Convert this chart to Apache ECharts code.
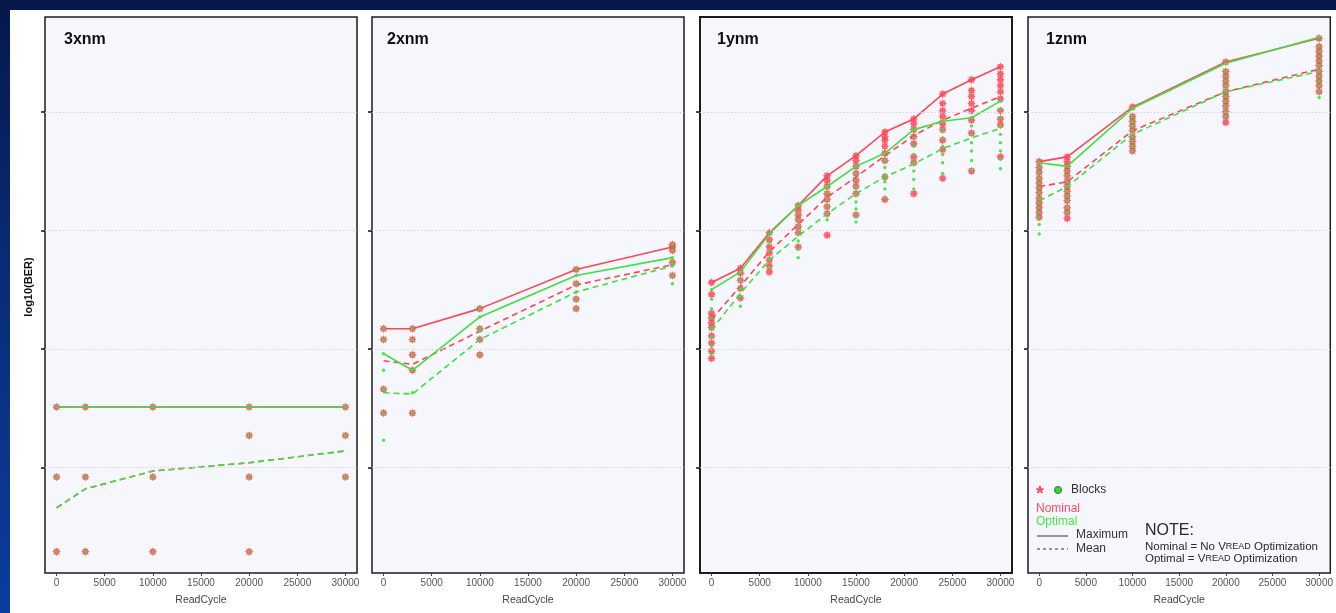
<!DOCTYPE html>
<html>
<head>
<meta charset="utf-8">
<script src="https://cdn.jsdelivr.net/npm/echarts@6/dist/echarts.min.js"></script>
<style>
  html, body { margin:0; padding:0; width:1336px; height:613px; overflow:hidden;
    background: linear-gradient(180deg, #06184a 0%, #0a2c78 45%, #0c3c9e 100%); }
  #sheet { position:absolute; left:10px; top:10px; width:1326px; height:603px; background:#ffffff; }
  #chart { position:absolute; left:0; top:0; width:1336px; height:613px; }
</style>
</head>
<body>
<div id="sheet"></div>
<div id="chart"></div>
<script>
// ---------------- DATA ----------------
const panelTitles = ['3xnm', '2xnm', '1ynm', '1znm'];
const xTickValues = [0, 5000, 10000, 15000, 20000, 25000, 30000];
const yGridValues = [-5, -4, -3, -2];          // log10(BER) grid levels (unlabelled in original)
const readCycles5 = [0, 3000, 10000, 20000, 30000];
const readCycles11 = [0, 3000, 6000, 9000, 12000, 15000, 18000, 21000, 24000, 27000, 30000];

// 3xnm
const nm3_nomMax  = [-4.49, -4.49, -4.49, -4.49, -4.49];
const nm3_optMax  = [-4.49, -4.49, -4.49, -4.49, -4.49];
const nm3_nomMean = [-5.34, -5.18, -5.03, -4.96, -4.86];
const nm3_optMean = [-5.34, -5.18, -5.03, -4.96, -4.86];
const nm3_nomBlocks = [[-4.49,-5.08,-5.71],[-4.49,-5.08,-5.71],[-4.49,-5.08,-5.71],[-4.49,-4.73,-5.08,-5.71],[-4.49,-4.73,-5.08]];
const nm3_optBlocks = [[-4.49,-5.08,-5.71],[-4.49,-5.08,-5.71],[-4.49,-5.08,-5.71],[-4.49,-4.73,-5.08,-5.71],[-4.49,-4.73,-5.08]];

// 2xnm
const nm2_nomMax  = [-3.83, -3.83, -3.66, -3.33, -3.14];
const nm2_optMax  = [-4.04, -4.18, -3.73, -3.38, -3.23];
const nm2_nomMean = [-4.10, -4.13, -3.85, -3.46, -3.29];
const nm2_optMean = [-4.37, -4.38, -3.92, -3.52, -3.30];
const nm2_nomBlocks = [[-3.83,-3.92,-4.34,-4.54],[-3.83,-3.92,-4.05,-4.18,-4.54],[-3.66,-3.83,-3.92,-4.05],[-3.33,-3.45,-3.58,-3.66],[-3.12,-3.14,-3.17,-3.27,-3.38]];
const nm2_optBlocks = [[-3.83,-3.92,-4.04,-4.18,-4.34,-4.54,-4.77],[-3.83,-3.92,-4.05,-4.18,-4.37,-4.54],[-3.66,-3.73,-3.83,-3.85,-3.92,-4.05],[-3.33,-3.38,-3.45,-3.52,-3.58,-3.66],[-3.12,-3.17,-3.23,-3.27,-3.30,-3.38,-3.45]];

// 1ynm
const nm1y_nomMax  = [-3.44, -3.32, -3.02, -2.79, -2.54, -2.37, -2.17, -2.06, -1.85, -1.73, -1.62];
const nm1y_optMax  = [-3.50, -3.35, -3.03, -2.79, -2.63, -2.46, -2.35, -2.15, -2.08, -2.05, -1.91];
const nm1y_nomMean = [-3.75, -3.47, -3.18, -2.95, -2.72, -2.55, -2.37, -2.20, -2.07, -1.97, -1.87];
const nm1y_optMean = [-3.84, -3.53, -3.25, -3.05, -2.86, -2.69, -2.55, -2.44, -2.31, -2.22, -2.14];
const nm1y_nomBlocks = [
  [-3.44,-3.54,-3.70,-3.74,-3.78,-3.82,-3.89,-3.95,-4.02,-4.08],
  [-3.32,-3.36,-3.42,-3.49,-3.57],
  [-3.02,-3.08,-3.14,-3.19,-3.25,-3.30,-3.35],
  [-2.79,-2.83,-2.87,-2.91,-2.97,-3.02,-3.14],
  [-2.54,-2.58,-2.63,-2.69,-2.74,-2.80,-2.86,-3.04],
  [-2.37,-2.41,-2.46,-2.52,-2.58,-2.63,-2.69,-2.87],
  [-2.17,-2.21,-2.24,-2.29,-2.35,-2.41,-2.55,-2.74],
  [-2.06,-2.10,-2.15,-2.21,-2.27,-2.38,-2.43,-2.69],
  [-1.85,-1.93,-1.99,-2.04,-2.10,-2.15,-2.24,-2.32,-2.56],
  [-1.73,-1.82,-1.87,-1.93,-1.99,-2.07,-2.18,-2.50],
  [-1.62,-1.68,-1.73,-1.78,-1.83,-1.89,-1.99,-2.06,-2.11,-2.38]
];
const nm1y_optBlocks = [
  [-3.50,-3.58,-3.66,-3.74,-3.82,-3.90,-3.98,-4.04],
  [-3.35,-3.42,-3.49,-3.56,-3.64],
  [-3.03,-3.10,-3.17,-3.24,-3.31],
  [-2.79,-2.85,-2.91,-2.97,-3.03,-3.09,-3.16,-3.23],
  [-2.63,-2.68,-2.74,-2.80,-2.86,-2.91],
  [-2.46,-2.52,-2.58,-2.64,-2.70,-2.76,-2.82,-2.88,-2.93],
  [-2.35,-2.41,-2.47,-2.53,-2.59,-2.65,-2.72],
  [-2.15,-2.22,-2.29,-2.36,-2.43,-2.50,-2.57,-2.65],
  [-2.08,-2.15,-2.22,-2.29,-2.36,-2.43,-2.52],
  [-2.05,-2.12,-2.19,-2.26,-2.33,-2.41,-2.49],
  [-1.91,-1.98,-2.05,-2.12,-2.19,-2.26,-2.33,-2.40,-2.48]
];

// 1znm
const nm1z_nomMax  = [-2.42, -2.38, -1.96, -1.58, -1.38];
const nm1z_optMax  = [-2.43, -2.46, -1.97, -1.59, -1.37];
const nm1z_nomMean = [-2.63, -2.59, -2.16, -1.83, -1.64];
const nm1z_optMean = [-2.75, -2.63, -2.19, -1.83, -1.66];
const nm1z_nomBlocks = [
  [-2.42,-2.47,-2.51,-2.56,-2.60,-2.64,-2.68,-2.73,-2.77,-2.81,-2.85,-2.89],
  [-2.38,-2.42,-2.46,-2.50,-2.54,-2.59,-2.63,-2.67,-2.71,-2.75,-2.81,-2.85,-2.90],
  [-1.96,-2.04,-2.08,-2.12,-2.16,-2.21,-2.25,-2.29,-2.33],
  [-1.58,-1.66,-1.70,-1.74,-1.78,-1.83,-1.87,-1.91,-1.95,-2.00,-2.04,-2.09],
  [-1.38,-1.45,-1.49,-1.53,-1.57,-1.61,-1.66,-1.70,-1.74,-1.78,-1.83]
];
const nm1z_optBlocks = [
  [-2.43,-2.47,-2.51,-2.56,-2.60,-2.64,-2.68,-2.73,-2.77,-2.81,-2.85,-2.89,-2.95,-3.03],
  [-2.46,-2.50,-2.54,-2.59,-2.63,-2.67,-2.71,-2.75,-2.81,-2.85],
  [-1.97,-2.04,-2.08,-2.12,-2.16,-2.21,-2.25,-2.29,-2.33],
  [-1.59,-1.66,-1.70,-1.74,-1.78,-1.83,-1.87,-1.91,-1.95,-2.00,-2.04],
  [-1.37,-1.45,-1.49,-1.53,-1.57,-1.61,-1.66,-1.70,-1.74,-1.78,-1.83,-1.88]
];

// ---------------- STYLE / LAYOUT ----------------
const FONT = "'Liberation Sans', Arial, sans-serif";
const RED = '#ff4656';
const GREEN = '#3fe03f';
const X_MIN = -1200, X_MAX = 31200;
const Y_MIN = -5.89, Y_MAX = -1.20;
const GRID_TOP = 17, GRID_H = 556, GRID_W = 312;
const gridLefts = [45, 372, 700, 1028];

const panels = [
  { xs: readCycles5,  nomMax: nm3_nomMax,  optMax: nm3_optMax,  nomMean: nm3_nomMean,  optMean: nm3_optMean,  nomB: nm3_nomBlocks,  optB: nm3_optBlocks },
  { xs: readCycles5,  nomMax: nm2_nomMax,  optMax: nm2_optMax,  nomMean: nm2_nomMean,  optMean: nm2_optMean,  nomB: nm2_nomBlocks,  optB: nm2_optBlocks },
  { xs: readCycles11, nomMax: nm1y_nomMax, optMax: nm1y_optMax, nomMean: nm1y_nomMean, optMean: nm1y_optMean, nomB: nm1y_nomBlocks, optB: nm1y_optBlocks },
  { xs: readCycles5,  nomMax: nm1z_nomMax, optMax: nm1z_optMax, nomMean: nm1z_nomMean, optMean: nm1z_optMean, nomB: nm1z_nomBlocks, optB: nm1z_optBlocks }
];

// asterisk-like symbol
function asteriskPath() {
  let d = '';
  for (let k = 0; k < 16; k++) {
    const a = k * Math.PI / 8 - Math.PI / 2;
    const r = (k % 2 === 0) ? 10 : 6.5;
    const px = (10 + r * Math.cos(a)).toFixed(2), py = (10 + r * Math.sin(a)).toFixed(2);
    d += (k === 0 ? 'M' : 'L') + px + ' ' + py + ' ';
  }
  return 'path://' + d + 'Z';
}
const ASTER = asteriskPath();

const grids = [], xAxes = [], yAxes = [], series = [];
panels.forEach((p, i) => {
  grids.push({ left: gridLefts[i], top: GRID_TOP, width: GRID_W, height: GRID_H, show: true,
    backgroundColor: '#f6f7fc', borderColor: '#1c1c1c', borderWidth: (i === 2 ? 2 : 1.5), containLabel: false });
  xAxes.push({ type: 'value', gridIndex: i, min: X_MIN, max: X_MAX,
    axisLine: { show: false, onZero: false },
    axisTick: { show: true, length: 3, customValues: xTickValues, lineStyle: { color: '#444' } },
    axisLabel: { show: true, customValues: xTickValues, color: '#555', fontSize: 10, fontFamily: FONT, margin: 5,
      formatter: v => String(v) },
    splitLine: { show: false },
    name: 'ReadCycle', nameLocation: 'middle', nameGap: 22,
    nameTextStyle: { color: '#444', fontSize: 10.5, fontFamily: FONT } });
  yAxes.push({ type: 'value', gridIndex: i, min: Y_MIN, max: Y_MAX,
    axisLine: { show: false, onZero: false },
    axisTick: { show: true, inside: false, length: 4, customValues: yGridValues, lineStyle: { color: '#111', width: 1.5 } },
    axisLabel: { show: false },
    splitLine: { show: false } });

  const pairs = (ys) => p.xs.map((x, j) => [x, ys[j]]);
  const blockPairs = (b) => p.xs.flatMap((x, j) => b[j].map(v => [x, v]));

  // grid lines (dotted)
  series.push({ type: 'line', xAxisIndex: i, yAxisIndex: i, data: [], silent: true, z: 1,
    markLine: { silent: true, symbol: 'none', animation: false, label: { show: false },
      lineStyle: { color: '#d3d4da', type: [1.5, 2], width: 1 },
      data: yGridValues.map(v => ({ yAxis: v })) } });
  // nominal blocks
  series.push({ type: 'scatter', xAxisIndex: i, yAxisIndex: i, data: blockPairs(p.nomB), symbol: ASTER,
    symbolSize: 8.5, itemStyle: { color: RED, opacity: 0.85 }, z: 2, silent: true });
  // nominal lines
  series.push({ type: 'line', xAxisIndex: i, yAxisIndex: i, data: pairs(p.nomMax), symbol: 'none',
    lineStyle: { color: RED, width: 1.6 }, z: 3, silent: true });
  series.push({ type: 'line', xAxisIndex: i, yAxisIndex: i, data: pairs(p.nomMean), symbol: 'none',
    lineStyle: { color: RED, width: 1.6, type: [6, 4] }, z: 3, silent: true });
  // optimal lines
  series.push({ type: 'line', xAxisIndex: i, yAxisIndex: i, data: pairs(p.optMax), symbol: 'none',
    lineStyle: { color: GREEN, width: 1.6 }, z: 4, silent: true });
  series.push({ type: 'line', xAxisIndex: i, yAxisIndex: i, data: pairs(p.optMean), symbol: 'none',
    lineStyle: { color: GREEN, width: 1.6, type: [6, 4] }, z: 4, silent: true });
  // optimal blocks
  series.push({ type: 'scatter', xAxisIndex: i, yAxisIndex: i, data: blockPairs(p.optB), symbol: 'circle',
    symbolSize: 3.4, itemStyle: { color: GREEN, opacity: 0.9 }, z: 5, silent: true });
});

const titleX = [64, 387, 717, 1046];
const graphic = [];
panelTitles.forEach((t, i) => {
  graphic.push({ type: 'text', x: titleX[i], y: 40, z: 10,
    style: { text: t, font: 'bold 16px ' + FONT, fill: '#111', verticalAlign: 'middle' } });
});
graphic.push({ type: 'text', x: 29, y: 287, rotation: Math.PI / 2, z: 10,
  style: { text: 'log10(BER)', font: 'bold 11px ' + FONT, fill: '#111', align: 'center', verticalAlign: 'middle' } });

// legend / note inside the 1znm panel
graphic.push(
  { type: 'text', x: 1036, y: 494, z: 10, style: { text: '*', font: 'bold 20px ' + FONT, fill: RED, verticalAlign: 'middle' } },
  { type: 'circle', z: 10, shape: { cx: 1058, cy: 490, r: 3.5 }, style: { fill: '#3ccf3c', stroke: '#2b7d2b', lineWidth: 1 } },
  { type: 'text', x: 1071, y: 490, z: 10, style: { text: 'Blocks', font: '12px ' + FONT, fill: '#333', verticalAlign: 'middle' } },
  { type: 'text', x: 1036, y: 509, z: 10, style: { text: 'Nominal', font: '12px ' + FONT, fill: '#ff4a5c', verticalAlign: 'middle' } },
  { type: 'text', x: 1036, y: 522, z: 10, style: { text: 'Optimal', font: '12px ' + FONT, fill: '#46e646', verticalAlign: 'middle' } },
  { type: 'line', z: 10, shape: { x1: 1037, y1: 536, x2: 1068, y2: 536 }, style: { stroke: '#333', lineWidth: 1 } },
  { type: 'text', x: 1076, y: 535, z: 10, style: { text: 'Maximum', font: '12px ' + FONT, fill: '#333', verticalAlign: 'middle' } },
  { type: 'line', z: 10, shape: { x1: 1037, y1: 549, x2: 1068, y2: 549 }, style: { stroke: '#333', lineWidth: 1, lineDash: [3, 3] } },
  { type: 'text', x: 1076, y: 549, z: 10, style: { text: 'Mean', font: '12px ' + FONT, fill: '#333', verticalAlign: 'middle' } },
  { type: 'text', x: 1145, y: 531, z: 10, style: { text: 'NOTE:', font: '500 16px ' + FONT, fill: '#2a2a2a', verticalAlign: 'middle' } },
  { type: 'text', x: 1145, y: 547, z: 10, style: {
      text: '{a|Nominal = No V}{s|READ}{a| Optimization}', verticalAlign: 'middle',
      rich: { a: { font: '11.5px ' + FONT, fill: '#2a2a2a' }, s: { font: '9px ' + FONT, fill: '#2a2a2a' } } } },
  { type: 'text', x: 1145, y: 559, z: 10, style: {
      text: '{a|Optimal = V}{s|READ}{a| Optimization}', verticalAlign: 'middle',
      rich: { a: { font: '11.5px ' + FONT, fill: '#2a2a2a' }, s: { font: '9px ' + FONT, fill: '#2a2a2a' } } } }
);

const chart = echarts.init(document.getElementById('chart'), null, { renderer: 'canvas', width: 1336, height: 613 });
chart.setOption({
  backgroundColor: 'transparent',
  animation: false,
  textStyle: { fontFamily: FONT },
  grid: grids, xAxis: xAxes, yAxis: yAxes, series: series, graphic: graphic
});
</script>
</body>
</html>
